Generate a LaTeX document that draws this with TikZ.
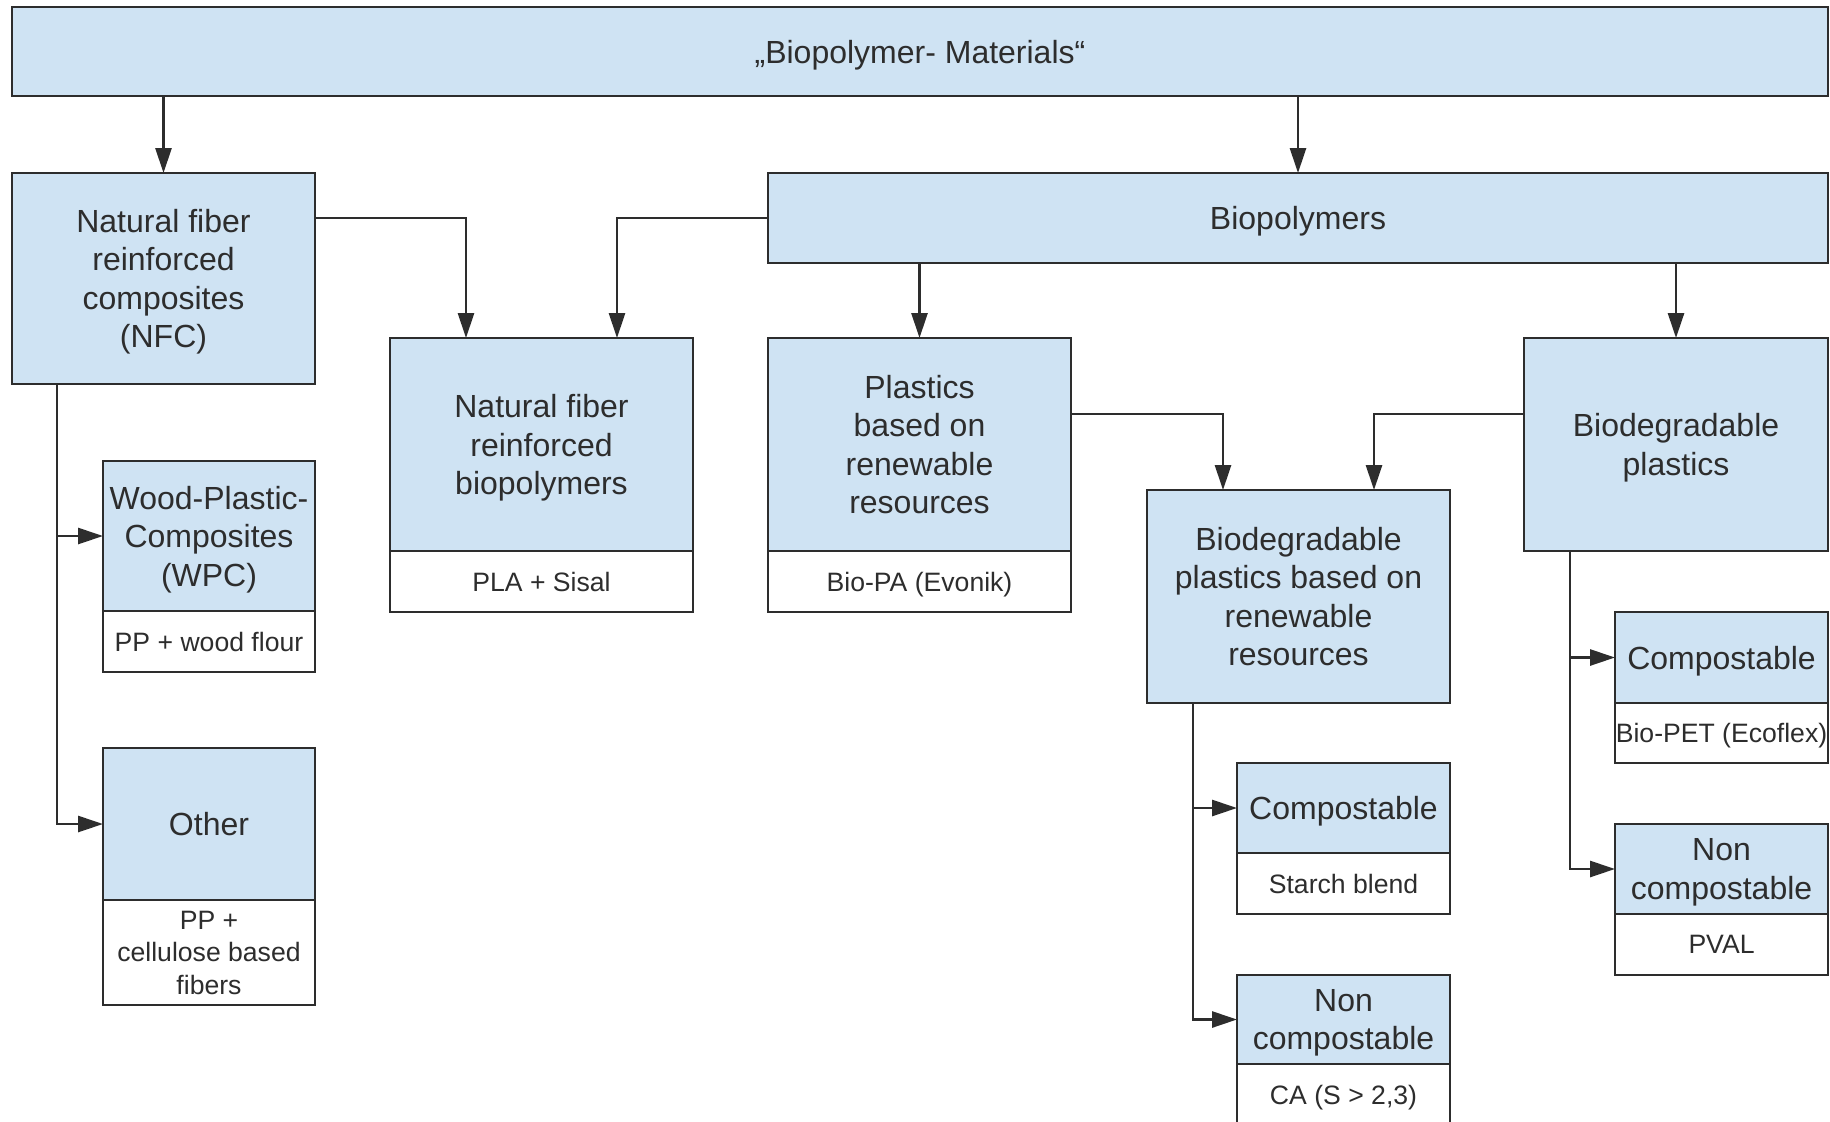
\documentclass[tikz,border=0pt]{standalone}
\usepackage{fontspec}
\setmainfont{Liberation Sans}
\usetikzlibrary{positioning,calc,arrows.meta}
\definecolor{boxblue}{RGB}{207,227,243}
\definecolor{linegray}{RGB}{45,45,45}
\tikzset{bpad/.style={draw=linegray, line width=1.4pt, fill=boxblue, outer sep=0pt, inner sep=2pt, text depth=0pt, align=center, text=linegray, font=\fontsize{16}{19.25}\selectfont}}
\tikzset{bsub/.style={bpad, fill=white, inner xsep=0pt, minimum width=#1, font=\fontsize{13.3}{16.3}\selectfont}}
\tikzset{arr/.style={draw=linegray, line width=1.4pt, -{Triangle[length=12.5pt,width=8pt]}}}

\begin{document}
\begin{tikzpicture}[x=0.5pt, y=-0.5pt]
	\useasboundingbox (0,0) rectangle (1830,1121);
	\node[bpad, minimum width=908pt, minimum height=44.5pt] (top) at (920,51.5) {„Biopolymer- Materials“};
	% left branch
	\node[bpad, minimum width=151.5pt, minimum height=105.5pt] (nfc) at (163.5,278.5) {Natural fiber\\reinforced\\composites\\(NFC)};
	\node[bpad, minimum width=106pt, minimum height=75pt] (wpc) at (209,536) {Wood-Plastic-\\Composites\\(WPC)};
	\node[bsub=106pt, minimum height=30.5pt, below=0pt of wpc] (wpcx) {PP + wood flour};
	\node[bpad, minimum width=106pt, minimum height=76pt] (oth) at (209,824) {Other};
	\node[bsub=106pt, minimum height=52.5pt, below=0pt of oth] (othx) {PP +\\cellulose based\\fibers};
	% biopolymers
	\node[bpad, minimum width=530pt, minimum height=45pt] (bio) at (1298,218) {Biopolymers};
	\node[bpad, minimum width=151.5pt, minimum height=106.5pt] (nfb) at (541.5,444.5) {Natural fiber\\reinforced\\biopolymers};
	\node[bsub=151.5pt, minimum height=30.5pt, below=0pt of nfb] (nfbx) {PLA + Sisal};
	\node[bpad, minimum width=151.5pt, minimum height=106.5pt] (pl) at (919.5,444.5) {Plastics\\based on\\renewable\\resources};
	\node[bsub=151.5pt, minimum height=30.5pt, below=0pt of pl] (plx) {Bio-PA (Evonik)};
	\node[bpad, minimum width=152pt, minimum height=106.5pt] (bdp) at (1676,444.5) {Biodegradable\\plastics};
	\node[bpad, minimum width=151.5pt, minimum height=106.5pt] (bpr) at (1298.5,596.5) {Biodegradable\\plastics based on\\renewable\\resources};
	\node[bpad, minimum width=106.5pt, minimum height=45pt] (cpm) at (1343.5,808) {Compostable};
	\node[bsub=106.5pt, minimum height=30.5pt, below=0pt of cpm] (cpmx) {Starch blend};
	\node[bpad, minimum width=106.5pt, minimum height=44.5pt] (ncm) at (1343.5,1019.5) {Non\\compostable};
	\node[bsub=106.5pt, minimum height=30.5pt, below=0pt of ncm] (ncmx) {CA (S > 2,3)};
	\node[bpad, minimum width=106.5pt, minimum height=45.5pt] (cpr) at (1721.5,657.5) {Compostable};
	\node[bsub=106.5pt, minimum height=30pt, below=0pt of cpr] (cprx) {Bio-PET (Ecoflex)};
	\node[bpad, minimum width=106.5pt, minimum height=45pt] (ncr) at (1721.5,869) {Non\\compostable};
	\node[bsub=106.5pt, minimum height=30.5pt, below=0pt of ncr] (ncrx) {PVAL};
	% trunks
	\coordinate (nfct) at ([xshift=22.5pt]nfc.south west);
	\coordinate (bprt) at ([xshift=23pt]bpr.south west);
	\coordinate (bdpt) at ([xshift=23pt]bdp.south west);
	% connectors
	\draw[arr] (top.south -| nfc.north) -- (nfc.north);
	\draw[arr] (top.south -| bio.north) -- (bio.north);
	\draw[arr] (nfc.east |- bio.west) -| ([xshift=-37.75pt]nfb.north);
	\draw[arr] (bio.west) -| ([xshift=37.75pt]nfb.north);
	\draw[arr] (bio.south -| pl.north) -- (pl.north);
	\draw[arr] (bio.south -| bdp.north) -- (bdp.north);
	\draw[arr] ([yshift=15.25pt]pl.east) -| ([xshift=-37.75pt]bpr.north);
	\draw[arr] ([yshift=15.25pt]bdp.west) -| ([xshift=37.75pt]bpr.north);
	\draw[arr] (nfct) |- (oth.west);
	\draw[arr] (nfct |- wpc.west) -- (wpc.west);
	\draw[arr] (bprt) |- (ncm.west);
	\draw[arr] (bprt |- cpm.west) -- (cpm.west);
	\draw[arr] (bdpt) |- (ncr.west);
	\draw[arr] (bdpt |- cpr.west) -- (cpr.west);
\end{tikzpicture}
\end{document}
